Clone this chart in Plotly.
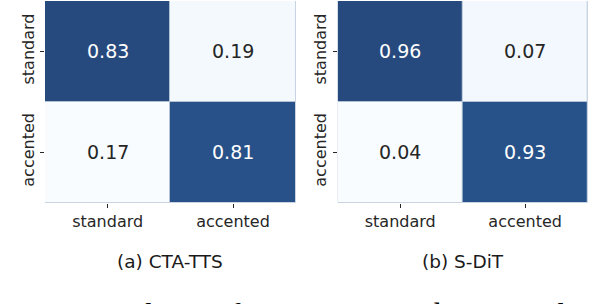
import plotly.graph_objects as go

labels = ["standard", "accented"]
cta_tts = [[0.83, 0.19], [0.17, 0.81]]
s_dit = [[0.96, 0.07], [0.04, 0.93]]
titles = ["(a) CTA-TTS", "(b) S-DiT"]
caption = "Figure 3: The confusion matrices between the standard and accented"

# Blues colormap blended toward white (alpha ~0.88)
blues = [(247, 251, 255), (222, 235, 247), (198, 219, 239), (158, 202, 225),
         (107, 174, 214), (66, 146, 198), (33, 113, 181), (8, 81, 156), (8, 48, 107)]
alpha = 0.875
cscale = []
for i, (r, g, b) in enumerate(blues):
    rr = round(alpha * r + (1 - alpha) * 255)
    gg = round(alpha * g + (1 - alpha) * 255)
    bb = round(alpha * b + (1 - alpha) * 255)
    cscale.append([i / (len(blues) - 1), f"rgb({rr},{gg},{bb})"])

W, H = 604, 304
xdoms = [[45 / W, 295.7 / W], [337.7 / W, 587.7 / W]]
ydom = [1 - 202.7 / H, 1 - 1.0 / H]

fig = go.Figure()
annotations = []
for k, (mat, title) in enumerate(zip([cta_tts, s_dit], titles)):
    suffix = "" if k == 0 else "2"
    zmin = min(min(r) for r in mat)
    zmax = max(max(r) for r in mat)
    fig.add_trace(go.Heatmap(
        z=mat, x=labels, y=labels, colorscale=cscale, zmin=zmin, zmax=zmax,
        showscale=False, xgap=1, ygap=1, hoverinfo="skip",
        xaxis="x" + suffix, yaxis="y" + suffix,
    ))
    for i, row in enumerate(mat):
        for j, v in enumerate(row):
            frac = (v - zmin) / (zmax - zmin)
            annotations.append(dict(
                x=labels[j], y=labels[i], xref="x" + suffix, yref="y" + suffix,
                text=f"{v:.2f}", showarrow=False,
                font=dict(family="DejaVu Sans", size=19,
                          color="#ffffff" if frac > 0.5 else "#262626"),
            ))
    annotations.append(dict(
        x=(xdoms[k][0] + xdoms[k][1]) / 2, y=1 - 261 / H, xref="paper", yref="paper",
        text=title, showarrow=False, xanchor="center", yanchor="middle",
        font=dict(family="DejaVu Sans", size=18.5, color="#1a1a1a"),
    ))

annotations.append(dict(
    x=0, y=1 - 314 / H, xref="paper", yref="paper", text=caption, showarrow=False,
    xanchor="left", yanchor="middle",
    font=dict(family="Liberation Serif", size=32, color="#000000"),
))

axis_common = dict(
    type="category", showgrid=False, zeroline=False, showline=False,
    ticks="outside", ticklen=4, tickwidth=1, tickcolor="#262626",
    tickfont=dict(family="DejaVu Sans", size=16, color="#262626"),
)

fig.update_layout(
    width=W, height=H, margin=dict(l=0, r=0, t=0, b=0),
    paper_bgcolor="white", plot_bgcolor="#b3c1d4",
    xaxis=dict(domain=xdoms[0], anchor="y", **axis_common),
    yaxis=dict(domain=ydom, anchor="x", autorange="reversed", tickangle=-90, **axis_common),
    xaxis2=dict(domain=xdoms[1], anchor="y2", **axis_common),
    yaxis2=dict(domain=ydom, anchor="x2", autorange="reversed", tickangle=-90, **axis_common),
    annotations=annotations,
)

fig.write_html("out.html", config={"displayModeBar": False},
               post_script="document.body.style.margin='0px';")
